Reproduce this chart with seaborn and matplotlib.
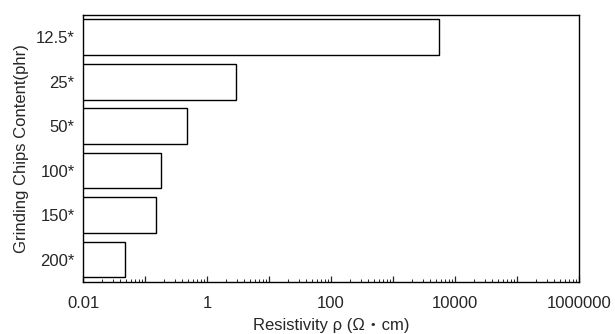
import numpy as np
import pandas as pd
import matplotlib
matplotlib.use("Agg")
import matplotlib.pyplot as plt
import matplotlib.ticker as mticker
import seaborn as sns

# ===================== Data =====================
contents = ["12.5*", "25*", "50*", "100*", "150*", "200*"]
resistivity = [5500, 2.9, 0.48, 0.18, 0.15, 0.047]
decade_ticks = [0.01, 0.1, 1, 10, 100, 1000, 10000, 100000, 1000000]
decade_labels = ["0.01", "", "1", "", "100", "", "10000", "", "1000000"]
# =================================================

sns.set_style("white")
plt.rcParams["font.family"] = ["Liberation Sans", "Noto Sans CJK JP", "DejaVu Sans"]
plt.rcParams["font.size"] = 12

df = pd.DataFrame({"content": contents, "rho": resistivity})

fig = plt.figure(figsize=(6.15, 3.34), dpi=100)
ax = fig.add_axes([0.135, 0.156, 0.8065, 0.799])

sns.barplot(data=df, x="rho", y="content", orient="h",
            color="white", edgecolor="black", linewidth=1.0, width=0.8, ax=ax)
ax.set_xscale("log")

ax.set_xlim(0.01, 1000000)
ax.set_ylim(5.5, -0.5)
ax.set_xticks(decade_ticks)
ax.set_xticklabels(decade_labels)
ax.xaxis.set_minor_locator(mticker.LogLocator(base=10, subs=np.arange(2, 10), numticks=20))
ax.xaxis.set_minor_formatter(mticker.NullFormatter())

ax.tick_params(axis="x", which="major", direction="in", length=4.5, width=0.9,
               pad=10, labelsize=12, bottom=True, top=False)
ax.tick_params(axis="x", which="minor", direction="in", length=2.2, width=0.7,
               bottom=True, top=False)
ax.tick_params(axis="y", length=0, pad=6, labelsize=12)

for sp in ax.spines.values():
    sp.set_visible(True)
    sp.set_color("black")
    sp.set_linewidth(1.0)

ax.set_xlabel("Resistivity ρ (Ω・cm)", fontsize=12, labelpad=5)
ax.set_ylabel("Grinding Chips Content(phr)", fontsize=12, labelpad=5)

fig.savefig("out.png", dpi=100)
